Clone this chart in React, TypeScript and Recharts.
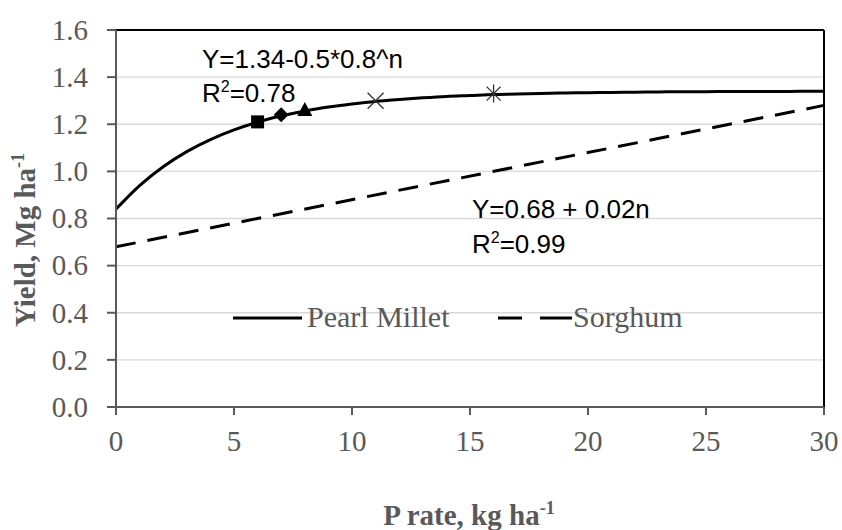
import React, { useEffect } from 'react';
import { ComposedChart, Line, Scatter, XAxis, YAxis, CartesianGrid, ReferenceLine, Legend } from 'recharts';

const pearlRate = [0, 1, 2, 3, 4, 5, 6, 7, 8, 9, 10, 11, 12, 13, 14, 15, 16, 17, 18, 19, 20, 21, 22, 23, 24, 25, 26, 27, 28, 29, 30];
const pearlYield = [0.84, 0.94, 1.02, 1.084, 1.135, 1.176, 1.209, 1.236, 1.256, 1.273, 1.286, 1.297, 1.305, 1.312, 1.318, 1.322, 1.326, 1.328, 1.331, 1.333, 1.334, 1.335, 1.336, 1.337, 1.338, 1.338, 1.339, 1.339, 1.339, 1.34, 1.34];
const sorghumRate = [0, 30];
const sorghumYield = [0.68, 1.28];
const markerRate = [6, 7, 8, 11, 16];
const markerYield = [1.21, 1.24, 1.26, 1.3, 1.33];
const markerKinds = ['square', 'diamond', 'triangle', 'x', 'star'];
const xTicks = [0, 5, 10, 15, 20, 25, 30];
const yTicks = [0, 0.2, 0.4, 0.6, 0.8, 1.0, 1.2, 1.4, 1.6];

const pearl = pearlRate.map((x, i) => ({ x, y: pearlYield[i] }));
const sorghum = sorghumRate.map((x, i) => ({ x, y: sorghumYield[i] }));
const markers = markerRate.map((x, i) => ({ x, y: markerYield[i], kind: markerKinds[i] }));

const GRAY = '#595959';
const SERIF = '"Liberation Serif", "Times New Roman", serif';
const SANS = '"Liberation Sans", Arial, sans-serif';

function Marker(props: any) {
  const { cx, cy, payload } = props;
  if (cx == null || cy == null) return null;
  switch (payload.kind) {
    case 'square':
      return <rect x={cx - 6.5} y={cy - 6.5} width={13} height={13} fill="#000" />;
    case 'diamond':
      return <path d={`M${cx},${cy - 7.5} L${cx + 7.5},${cy} L${cx},${cy + 7.5} L${cx - 7.5},${cy} Z`} fill="#000" />;
    case 'triangle':
      return <path d={`M${cx},${cy - 8} L${cx + 7.5},${cy + 6} L${cx - 7.5},${cy + 6} Z`} fill="#000" />;
    case 'x':
      return <path d={`M${cx - 8},${cy - 8} L${cx + 8},${cy + 8} M${cx - 8},${cy + 8} L${cx + 8},${cy - 8}`} stroke="#333" strokeWidth={1.3} fill="none" />;
    default:
      return <path d={`M${cx - 7},${cy - 7} L${cx + 7},${cy + 7} M${cx - 7},${cy + 7} L${cx + 7},${cy - 7} M${cx},${cy - 9} L${cx},${cy + 9}`} stroke="#333" strokeWidth={1.3} fill="none" />;
  }
}

function XTick(props: any) {
  const { x, y, payload } = props;
  return (
    <text x={x} y={y} dy="0.71em" textAnchor="middle" fontFamily={SERIF} fontSize={29} fill={GRAY}>
      {payload.value}
    </text>
  );
}

function YTick(props: any) {
  const { x, y, payload } = props;
  return (
    <text x={x} y={y} dy="0.34em" textAnchor="end" fontFamily={SERIF} fontSize={29} fill={GRAY}>
      {Number(payload.value).toFixed(1)}
    </text>
  );
}

function LegendBox() {
  return (
    <svg width={500} height={34} style={{ display: 'block', overflow: 'visible' }}>
      <line x1={0} y1={15} x2={69} y2={15} stroke="#000" strokeWidth={3} />
      <text x={74} y={24} fontFamily={SERIF} fontSize={30} fill={GRAY}>Pearl Millet</text>
      <line x1={265} y1={15} x2={339} y2={15} stroke="#000" strokeWidth={3} strokeDasharray="24 18 40" />
      <text x={340} y={24} fontFamily={SERIF} fontSize={30} fill={GRAY}>Sorghum</text>
    </svg>
  );
}

export default function App() {
  useEffect(() => {
    document.body.style.margin = '0';
  }, []);
  return (
    <div style={{ position: 'relative', width: 842, height: 530, background: '#fff' }}>
      <ComposedChart width={842} height={530} margin={{ top: 30, right: 18, bottom: 29, left: 0 }}>
        <CartesianGrid vertical={false} stroke="#d9d9d9" strokeWidth={1.3} />
        <XAxis
          type="number"
          dataKey="x"
          domain={[0, 30]}
          ticks={xTicks}
          height={60}
          tickSize={8}
          tickMargin={15}
          stroke={GRAY}
          strokeWidth={2}
          tick={XTick}
          allowDuplicatedCategory={false}
        />
        <YAxis
          type="number"
          dataKey="y"
          domain={[0, 1.6]}
          ticks={yTicks}
          width={116}
          tickSize={9}
          tickMargin={19}
          stroke={GRAY}
          strokeWidth={2}
          tick={YTick}
        />
        <ReferenceLine y={1.6} stroke="#000" strokeWidth={2} />
        <ReferenceLine x={30} stroke="#000" strokeWidth={2} />
        <Line data={sorghum} dataKey="y" type="linear" stroke="#000" strokeWidth={3} strokeDasharray="20 12" dot={false} isAnimationActive={false} />
        <Line data={pearl} dataKey="y" type="monotone" stroke="#000" strokeWidth={3} dot={false} isAnimationActive={false} />
        <Scatter data={markers} dataKey="y" shape={Marker} isAnimationActive={false} />
        <Legend content={LegendBox} wrapperStyle={{ position: 'absolute', left: 233, top: 303, width: 500, height: 34, overflow: 'visible' }} />
      </ComposedChart>

      <svg width={842} height={530} style={{ position: 'absolute', left: 0, top: 0, pointerEvents: 'none' }}>
        <text x={202} y={68} fontFamily={SANS} fontSize={26} fill="#000">Y=1.34-0.5*0.8^n</text>
        <text x={202} y={102} fontFamily={SANS} fontSize={26} fill="#000">
          R<tspan dy={-10} fontSize={16}>2</tspan><tspan dy={10}>=0.78</tspan>
        </text>
        <text x={472} y={218} fontFamily={SANS} fontSize={26} fill="#000">Y=0.68 + 0.02n</text>
        <text x={472} y={253} fontFamily={SANS} fontSize={26} fill="#000">
          R<tspan dy={-10} fontSize={16}>2</tspan><tspan dy={10}>=0.99</tspan>
        </text>
        <text x={469} y={525} textAnchor="middle" fontFamily={SERIF} fontWeight="bold" fontSize={29} fill={GRAY}>
          P rate, kg ha<tspan dy={-11} fontSize={18}>-1</tspan>
        </text>
        <text transform="translate(35,240) rotate(-90)" textAnchor="middle" fontFamily={SERIF} fontWeight="bold" fontSize={29} fill={GRAY}>
          Yield, Mg ha<tspan dy={-11} fontSize={18}>-1</tspan>
        </text>
      </svg>
    </div>
  );
}
